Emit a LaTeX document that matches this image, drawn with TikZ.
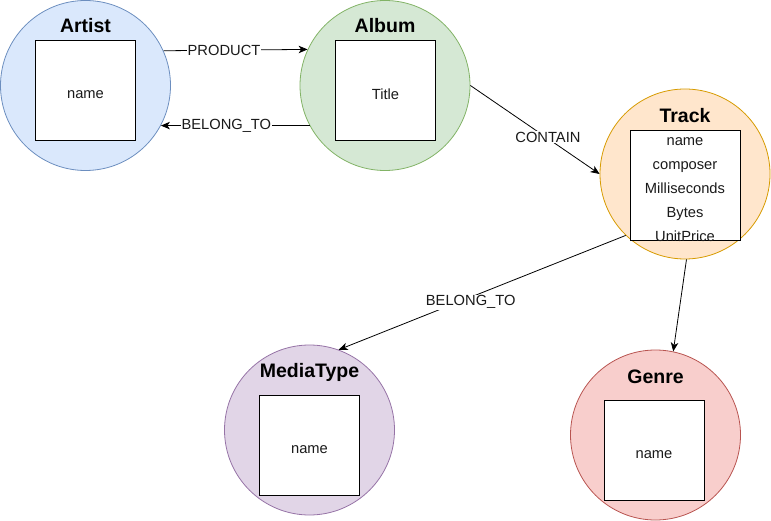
\documentclass[tikz,border=0pt]{standalone}
\usepackage{fontspec}
\setmainfont{Liberation Sans}
\usetikzlibrary{arrows.meta}
\definecolor{bfill}{HTML}{DAE8FC}\definecolor{bline}{HTML}{6C8EBF}
\definecolor{gfill}{HTML}{D5E8D4}\definecolor{gline}{HTML}{82B366}
\definecolor{ofill}{HTML}{FFE6CC}\definecolor{oline}{HTML}{D79B00}
\definecolor{pfill}{HTML}{E1D5E7}\definecolor{pline}{HTML}{9673A6}
\definecolor{rfill}{HTML}{F8CECC}\definecolor{rline}{HTML}{B85450}
\definecolor{txt}{HTML}{1A1A1A}
\tikzset{
  entity/.style={circle, minimum size=170pt, inner sep=0pt, line width=0.8pt},
  attrbox/.style={draw=black, fill=white, line width=0.9pt, minimum width=100pt, minimum height=100pt, inner sep=0pt},
  ttl/.style={font=\fontsize{19.5}{22}\selectfont\bfseries, text=black, inner sep=0pt},
  attr/.style={font=\fontsize{14.7}{17}\selectfont, text=txt, inner sep=0pt},
  rel/.style={draw=black, line width=0.8pt, -{Stealth[length=9pt,width=7.5pt,inset=2.5pt]}},
  lbl/.style={font=\fontsize{14.7}{17}\selectfont, text=txt, fill=white, inner sep=1pt},
}
\begin{document}
\begin{tikzpicture}[x=1pt,y=-1pt]
\useasboundingbox (0,0) rectangle (771,521);
% entities
\node[entity, draw=bline, fill=bfill] (artist) at (85.5,85.5) {};
\node[entity, draw=gline, fill=gfill] (album) at (385,85.5) {};
\node[entity, draw=oline, fill=ofill] (track) at (685,174) {};
\node[entity, draw=pline, fill=pfill] (media) at (309.5,430) {};
\node[entity, draw=rline, fill=rfill] (genre) at (655.5,435) {};
% titles
\node[ttl] (artistT) at (85.5,26) {Artist};
\node[ttl] (albumT) at (385,26) {Album};
\node[ttl] (trackT) at (685,116) {Track};
\node[ttl] (mediaT) at (309.5,372) {MediaType};
\node[ttl] (genreT) at (655.5,377) {Genre};
% attribute boxes
\node[attrbox] (artistB) at (85.5,90) {};
\node[attr] at (artistB.center) [yshift=-4.5pt] {name};
\node[attrbox] (albumB) at (385.5,90) {};
\node[attr] at (albumB.center) [yshift=-4.5pt] {Title};
\node[attrbox, minimum width=110pt, minimum height=110pt] (trackB) at (685,185) {};
\node[attr, align=center, font=\fontsize{14.7}{24}\selectfont] (trackA) at (685,190) {name\\composer\\Milliseconds\\Bytes\\UnitPrice};
\node[attrbox] (mediaB) at (309.5,445) {};
\node[attr] at (mediaB.center) [yshift=-4.5pt] {name};
\node[attrbox] (genreB) at (654,450) {};
\node[attr] at (genreB.center) [yshift=-4.5pt] {name};
% relations
\draw[rel] (artist.24.3) -- node[lbl, pos=0.42] {PRODUCT} (album.155.7);
\draw[rel] (album.208.1) -- node[lbl, pos=0.56] {BELONG\_TO} (artist.-28.1);
\draw[rel] (album.east) -- node[lbl, pos=0.6, yshift=1.5pt] {CONTAIN} (track.west);
\draw[rel] (track.-134.5) -- node[lbl, pos=0.54, yshift=-5pt] {BELONG\_TO} (media.70);
\draw[rel] (track.-89) -- (genre.78);
\end{tikzpicture}
\end{document}
